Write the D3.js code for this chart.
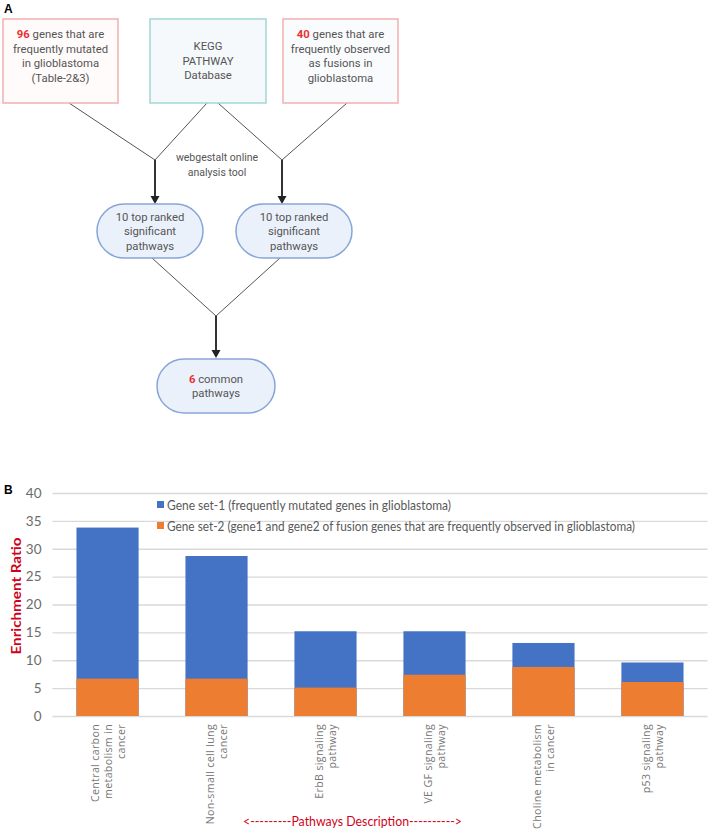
<!DOCTYPE html>
<html><head><meta charset="utf-8">
<script src="https://cdn.jsdelivr.net/npm/d3@7"></script>
<style>body{margin:0;background:#fff}svg{display:block}</style>
</head><body>
<svg id="c" width="709" height="834"></svg>
<script>
const categories = [
  ["Central carbon","metabolism in","cancer"],
  ["Non-small cell lung","cancer"],
  ["ErbB signaling","pathway"],
  ["VE GF signaling","pathway"],
  ["Choline metabolism","in cancer"],
  ["p53 signaling","pathway"]
];
const geneSet1 = [33.8, 28.7, 15.2, 15.2, 13.1, 9.6];
const geneSet2 = [6.7, 6.7, 5.1, 7.4, 8.8, 6.1];
const seriesNames = [
  "Gene set-1 (frequently mutated genes in glioblastoma)",
  "Gene set-2 (gene1 and gene2 of fusion genes that are frequently observed in glioblastoma)"
];
const yTicks = [0,5,10,15,20,25,30,35,40];

const svg = d3.select("#c");
const ff = "Roboto, 'Noto Sans', sans-serif";
const txt = "#555";

// ---------- Panel A: flowchart ----------
svg.append("text").attr("x",4).attr("y",13).attr("font-family","Liberation Sans, Arial").attr("font-weight","bold").attr("font-size",12).text("A");
svg.append("text").attr("x",4).attr("y",494).attr("font-family","Liberation Sans, Arial").attr("font-weight","bold").attr("font-size",12).text("B");

const boxes = [
  {x:3,w:115,stroke:"#f2b0b0",fill:"#fffbfb",lines:[[["96",true]," genes that are"],"frequently mutated","in glioblastoma","(Table-2&3)"],y0:34},
  {x:150,w:116,stroke:"#9ed9d5",fill:"#f6f9fc",lines:["KEGG","PATHWAY","Database"],y0:46},
  {x:283,w:115,stroke:"#f2b0b0",fill:"#fafbfd",lines:[[["40",true]," genes that are"],"frequently observed","as fusions in","glioblastoma"],y0:34}
];
const gA = svg.append("g");
const conn = [[69,103,155,160],[207,103,155,160],[218,103,282,160],[347,103,282,160],[152,258,216,316],[280,258,216,316]];
conn.forEach(c=>gA.append("line").attr("x1",c[0]).attr("y1",c[1]).attr("x2",c[2]).attr("y2",c[3]).attr("stroke","#555").attr("stroke-width",1));
function arrow(x,y1,y2){
  gA.append("line").attr("x1",x).attr("y1",y1).attr("x2",x).attr("y2",y2-7).attr("stroke","#333").attr("stroke-width",2);
  gA.append("path").attr("d",`M${x-4.5},${y2-8}L${x+4.5},${y2-8}L${x},${y2}Z`).attr("fill","#222");
}
arrow(155,160,204);
arrow(282,160,204);
arrow(216,316,358);

boxes.forEach(b=>{
  gA.append("rect").attr("x",b.x).attr("y",19).attr("width",b.w).attr("height",84).attr("fill",b.fill).attr("stroke",b.stroke).attr("stroke-width",1.5);
  b.lines.forEach((l,i)=>{
    const t = gA.append("text").attr("x",b.x+b.w/2).attr("y",b.y0+i*14.7+4).attr("text-anchor","middle").attr("font-family",ff).attr("font-size",11.3).attr("fill",txt);
    if(Array.isArray(l)){
      l.forEach(p=>{ if(Array.isArray(p)) t.append("tspan").attr("fill","#e8312f").attr("font-weight","bold").text(p[0]); else t.append("tspan").text(p); });
    } else t.text(l);
  });
});
["webgestalt online","analysis tool"].forEach((l,i)=>gA.append("text").attr("x",217).attr("y",161+i*15).attr("text-anchor","middle").attr("font-family",ff).attr("font-size",10.5).attr("fill",txt).text(l));

const pills = [
  {x:97,w:106,y:204,h:54,lines:["10 top ranked","significant","pathways"]},
  {x:236,w:116,y:204,h:54,lines:["10 top ranked","significant","pathways"]},
  {x:157,w:118,y:359,h:54,lines:[[["6",true]," common"],"pathways"]}
];
pills.forEach(p=>{
  gA.append("rect").attr("x",p.x).attr("y",p.y).attr("width",p.w).attr("height",p.h).attr("rx",p.h/2).attr("ry",p.h/2).attr("fill","#ebf1fb").attr("stroke","#86a6d8").attr("stroke-width",1.5);
  const n = p.lines.length, lh = 14.5;
  p.lines.forEach((l,i)=>{
    const cy = p.y + p.h/2 + (i-(n-1)/2)*lh;
    const t = gA.append("text").attr("x",p.x+p.w/2).attr("y",cy+4).attr("text-anchor","middle").attr("font-family",ff).attr("font-size",11.3).attr("fill",txt);
    if(Array.isArray(l)){
      l.forEach(q=>{ if(Array.isArray(q)) t.append("tspan").attr("fill","#e8312f").attr("font-weight","bold").text(q[0]); else t.append("tspan").text(q); });
    } else t.text(l);
  });
});

// ---------- Panel B: chart ----------
const cf = "Lato, 'Open Sans', sans-serif";
const idx = categories.map((d,i)=>i);
const x = d3.scaleBand().domain(idx).range([52.5,707.5]).paddingInner(0.43).paddingOuter(0.22);
const y = d3.scaleLinear().domain([0,40]).range([716,493]);
const gB = svg.append("g");

const yAxis = d3.axisLeft(y).tickValues(yTicks).tickSize(-(707.5-52.5)).tickPadding(11);
const ya = gB.append("g").attr("transform","translate(52.5,0)").call(yAxis);
ya.select(".domain").remove();
ya.selectAll(".tick line").attr("stroke","#d9d9d9").attr("stroke-width",1.3);
ya.selectAll(".tick text").attr("font-family",cf).attr("font-size",13.5).attr("fill","#6b6b6b");

gB.append("g").selectAll("rect").data(geneSet1).join("rect")
  .attr("x",(d,i)=>x(i)).attr("width",x.bandwidth()).attr("y",d=>y(d)).attr("height",d=>y(0)-y(d)).attr("fill","#4472c4");
gB.append("g").selectAll("rect").data(geneSet2).join("rect")
  .attr("x",(d,i)=>x(i)).attr("width",x.bandwidth()).attr("y",d=>y(d)).attr("height",d=>y(0)-y(d)).attr("fill","#ed7d31");

categories.forEach((lines,i)=>{
  const cx = x(i)+x.bandwidth()/2;
  const n = lines.length, lh = 13;
  lines.forEach((l,j)=>{
    const lx = cx + (j-(n-1)/2)*lh + 4;
    gB.append("text").attr("transform",`translate(${lx},724) rotate(-90)`).attr("text-anchor","end")
      .attr("font-family","'Open Sans', sans-serif").attr("font-size",10.6).attr("letter-spacing",0.35).attr("fill","#777").text(l);
  });
});

gB.append("text").attr("transform","translate(21,596) rotate(-90)").attr("text-anchor","middle")
  .attr("font-family",cf).attr("font-weight","bold").attr("font-size",14).attr("fill","#d0021b")
  .attr("textLength",117).attr("lengthAdjust","spacingAndGlyphs").text("Enrichment Ratio");

gB.append("text").attr("x",243).attr("y",826).attr("font-family",cf).attr("font-size",13).attr("fill","#d0021b")
  .attr("textLength",219).attr("lengthAdjust","spacingAndGlyphs").text("<---------Pathways Description---------->");

const legColors = ["#4472c4","#ed7d31"];
const legW = [284,468];
seriesNames.forEach((s,i)=>{
  const ly = 505 + i*21;
  gB.append("rect").attr("x",157).attr("y",ly-4).attr("width",7).attr("height",7).attr("fill",legColors[i]);
  gB.append("text").attr("x",167).attr("y",ly+4.5).attr("font-family",cf).attr("font-size",12.5).attr("fill","#595959")
    .attr("textLength",legW[i]).attr("lengthAdjust","spacingAndGlyphs").text(s);
});
</script>
</body></html>
